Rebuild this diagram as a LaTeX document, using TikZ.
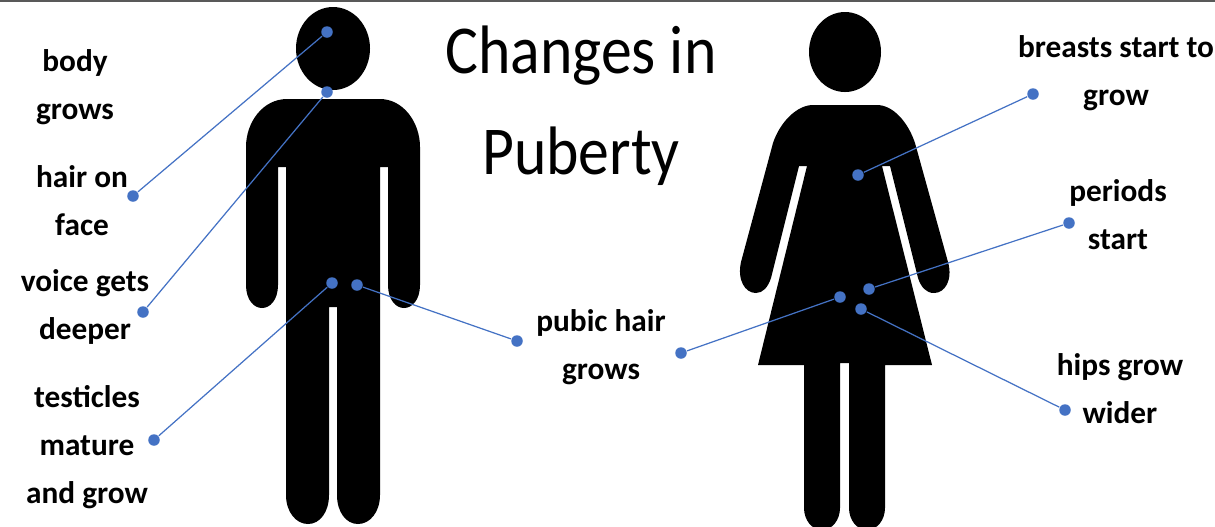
\documentclass[tikz,border=0pt]{standalone}
\usepackage{xcolor}
\usepackage{fontspec}
\setmainfont{Carlito}
\usetikzlibrary{calc}
\definecolor{linkblue}{HTML}{4472C4}
\definecolor{rulegrey}{HTML}{595959}

\begin{document}
\begin{tikzpicture}[x=0.01cm, y=-0.01cm]
  \tikzstyle{lbl}=[align=center, inner sep=0pt,
    font=\fontsize{8.9}{13.66}\selectfont\bfseries]
  \tikzstyle{ttl}=[align=center, inner sep=0pt, xscale=0.9, transform shape,
    font=\fontsize{19.5}{28.7}\selectfont]
  \tikzstyle{pt}=[circle, fill=linkblue, inner sep=0pt, minimum size=0.115cm]
  \tikzstyle{lk}=[linkblue, line width=0.35pt]

  \clip (0,0) rectangle (1215,526);
  \fill[rulegrey] (0,0) rectangle (1215,1.5);

  % man
  \fill (333,48.5) ellipse [x radius=37, y radius=41.5];
  \fill (287,99) -- (380,99)
    .. controls (403,99) and (420,122) .. (420,147)
    -- (420,285) .. controls (420,300) and (412,308) .. (404,308)
    .. controls (396,308) and (388,300) .. (388,285)
    -- (388,167) -- (380,167) -- (380,495)
    .. controls (380,512) and (370,524) .. (358,524)
    .. controls (346,524) and (337,512) .. (337,495)
    -- (337,307) -- (329,307) -- (329,495)
    .. controls (329,512) and (320,524) .. (308,524)
    .. controls (296,524) and (286,512) .. (286,495)
    -- (286,167) -- (278,167) -- (278,285)
    .. controls (278,300) and (270,308) .. (262,308)
    .. controls (254,308) and (246,300) .. (246,285)
    -- (246,147) .. controls (246,122) and (263,99) .. (287,99) -- cycle;

  % woman
  \fill (845,52) ellipse [x radius=36, y radius=40];
  \fill (813,105) -- (877,105)
    .. controls (893,105) and (908,122) .. (915,143)
    -- (948,262) .. controls (953,280) and (945,293) .. (934,293)
    .. controls (926,293) and (921,287) .. (918,278)
    -- (890,166) -- (882,166) -- (932,365) -- (885,365) -- (885,508)
    .. controls (885,520) and (877,530) .. (867,530)
    .. controls (857,530) and (849,520) .. (849,508)
    -- (849,363) -- (840,363) -- (840,508)
    .. controls (840,520) and (832,530) .. (822,530)
    .. controls (812,530) and (804,520) .. (804,508)
    -- (804,365) -- (758,365) -- (807,166) -- (799,166) -- (771,278)
    .. controls (768,287) and (763,293) .. (756,293)
    .. controls (745,293) and (737,280) .. (741,262)
    -- (773,143) .. controls (780,122) and (797,105) .. (813,105) -- cycle;

  \node[ttl] (title) at (581,106) {Changes in\\Puberty};

  \node[lbl] (body)   at (75,87)   {body\\grows};
  \node[lbl] (hair)   at (82,201)  {hair on\\face};
  \node[lbl] (voice)  at (85,307)  {voice gets\\deeper};
  \node[lbl] (test)   at (87,447)  {testicles\\mature\\and grow};
  \node[lbl] (pubic)  at (601,347) {pubic hair\\grows};
  \node[lbl] (breast) at (1116,73) {breasts start to\\grow};
  \node[lbl] (period) at (1118,215) {periods\\start};
  \node[lbl] (hips)   at (1120,389) {hips grow\\wider};

  \node[pt] (m1) at (327,32) {};   \node[pt] (m1e) at (133,196) {};
  \node[pt] (m2) at (327,92) {};   \node[pt] (m2e) at (143,312) {};
  \node[pt] (m3) at (332,283) {};  \node[pt] (m3e) at (154,440) {};
  \node[pt] (m4) at (357,285) {};  \node[pt] (m4e) at (517,341) {};
  \node[pt] (w1) at (858,175) {};  \node[pt] (w1e) at (1033,94) {};
  \node[pt] (w2) at (869,289) {};  \node[pt] (w2e) at (1069,223) {};
  \node[pt] (w3) at (840,297) {};  \node[pt] (w3e) at (681,353) {};
  \node[pt] (w4) at (861,309) {};  \node[pt] (w4e) at (1065,410) {};

  \foreach \p/\q in {m1/m1e, m2/m2e, m3/m3e, m4/m4e, w1/w1e, w2/w2e, w3/w3e, w4/w4e}
    \draw[lk] (\p) -- (\q);
\end{tikzpicture}
\end{document}
